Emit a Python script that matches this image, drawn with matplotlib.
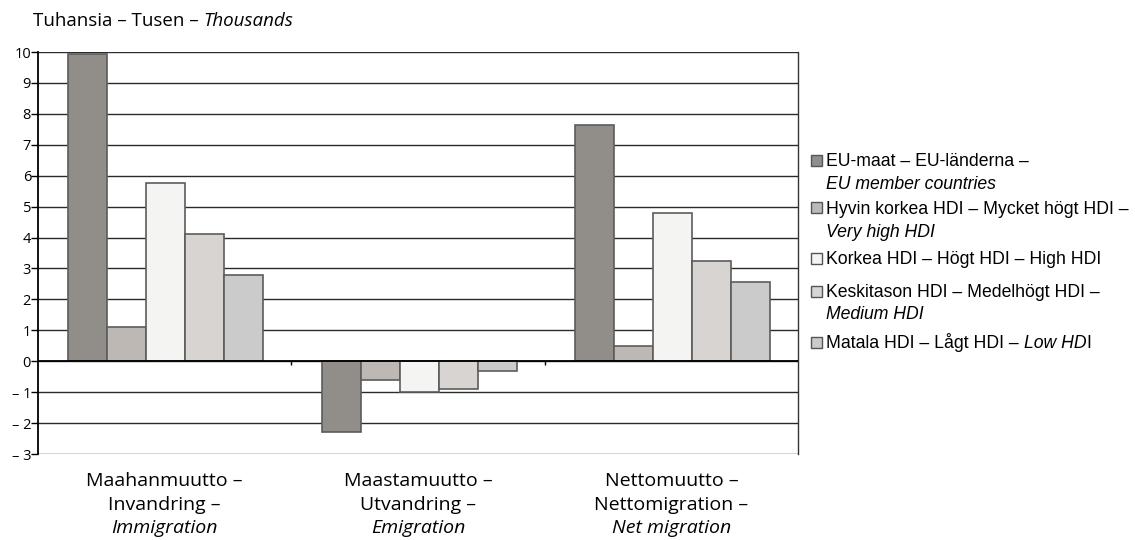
import matplotlib
matplotlib.use("Agg")
import matplotlib.pyplot as plt
from matplotlib.patches import Rectangle
import numpy as np

# data (thousands)
categories = [("Maahanmuutto –", "Invandring –", "Immigration"),
              ("Maastamuutto –", "Utvandring –", "Emigration"),
              ("Nettomuutto –", "Nettomigration –", "Net migration")]
eu_members = [9.95, -2.3, 7.65]
very_high = [1.1, -0.6, 0.5]
high = [5.75, -1.0, 4.8]
medium = [4.1, -0.9, 3.25]
low = [2.8, -0.3, 2.55]
series = [eu_members, very_high, high, medium, low]
colors = ["#918d89", "#bdb8b3", "#f4f4f2", "#d8d4d1", "#cbcbcb"]
yticks = list(range(-3, 11))
ytick_labels = [str(v) if v >= 0 else "– " + str(-v) for v in yticks]

# legend text: list of lines, each line a list of (text, italic)
legend_items = [
    [[("EU-maat – EU-länderna –", False)], [("EU member countries", True)]],
    [[("Hyvin korkea HDI – Mycket högt HDI –", False)], [("Very high HDI", True)]],
    [[("Korkea HDI – Högt HDI – High HDI", False)]],
    [[("Keskitason HDI – Medelhögt HDI –", False)], [("Medium HDI", True)]],
    [[("Matala HDI – Lågt HDI – ", False), ("Low HD", True), ("I", False)]],
]

W, H = 1135, 540
fig = plt.figure(figsize=(W / 100, H / 100), dpi=100)
ax = fig.add_axes([38 / W, 1 - 454 / H, (798 - 38) / W, (454 - 52) / H])

frut = "Open Sans"
arial = "Liberation Sans"

x = np.arange(len(categories))
bw = 0.154
for i, vals in enumerate(series):
    ax.bar(x + (i - 2) * bw + 0.005, vals, width=bw, color=colors[i],
           edgecolor="#5c5c5c", linewidth=1.2, zorder=3)

ax.set_xlim(-0.5, 2.5)
ax.set_ylim(-3, 10)
for v in yticks:
    ax.axhline(v, color="#2b2b2b", lw=1.0, zorder=1)
ax.axhline(0, color="black", lw=1.3, zorder=4)
ax.vlines([0.5, 1.5], -0.13, 0, color="black", lw=1.0, zorder=4)

ax.set_yticks(yticks)
ax.set_yticklabels(ytick_labels, fontfamily=frut, fontsize=10.5)
ax.tick_params(axis="y", length=5, width=1, pad=0, colors="black")
ax.set_xticks([])
for s in ["top", "bottom"]:
    ax.spines[s].set_visible(False)
ax.spines["left"].set_linewidth(1.3)
ax.spines["right"].set_linewidth(1.0)
ax.spines["right"].set_color("#333333")

# category labels
line_y = [481, 505, 528]
for xi, cat in zip(x, categories):
    xf = ax.transData.transform((xi, 0))[0] / W
    for j, txt in enumerate(cat):
        fig.text(xf, 1 - line_y[j] / H, txt, ha="center", va="center",
                 fontfamily=frut, fontsize=14,
                 style="italic" if j == 2 else "normal")

# title
t0 = fig.text(33 / W, 1 - 26 / H, "Tuhansia – Tusen – ", ha="left", va="baseline",
              fontfamily=frut, fontsize=13.5)
fig.canvas.draw()
bb = t0.get_window_extent()
fig.text(bb.x1 / W, 1 - 26 / H, "Thousands", ha="left", va="baseline",
         fontfamily=frut, fontsize=13.5, style="italic")

# legend
legend_y = [[160, 183], [207.5, 230.5], [258], [291, 313], [342]]
for k, item in enumerate(legend_items):
    y0 = legend_y[k][0]
    fig.patches.append(Rectangle((811 / W, 1 - (y0 + 5.5) / H), 11 / W, 11 / H,
                                 transform=fig.transFigure, facecolor=colors[k],
                                 edgecolor="#555555", lw=1.0))
    for li, line in enumerate(item):
        yy = 1 - (legend_y[k][li] + 6.3) / H
        xx = 826 / W
        for txt, it in line:
            t = fig.text(xx, yy, txt, ha="left", va="baseline", fontfamily=arial,
                         fontsize=12.7, style="italic" if it else "normal")
            fig.canvas.draw()
            xx = t.get_window_extent().x1 / W

fig.savefig("out.png", dpi=100)
